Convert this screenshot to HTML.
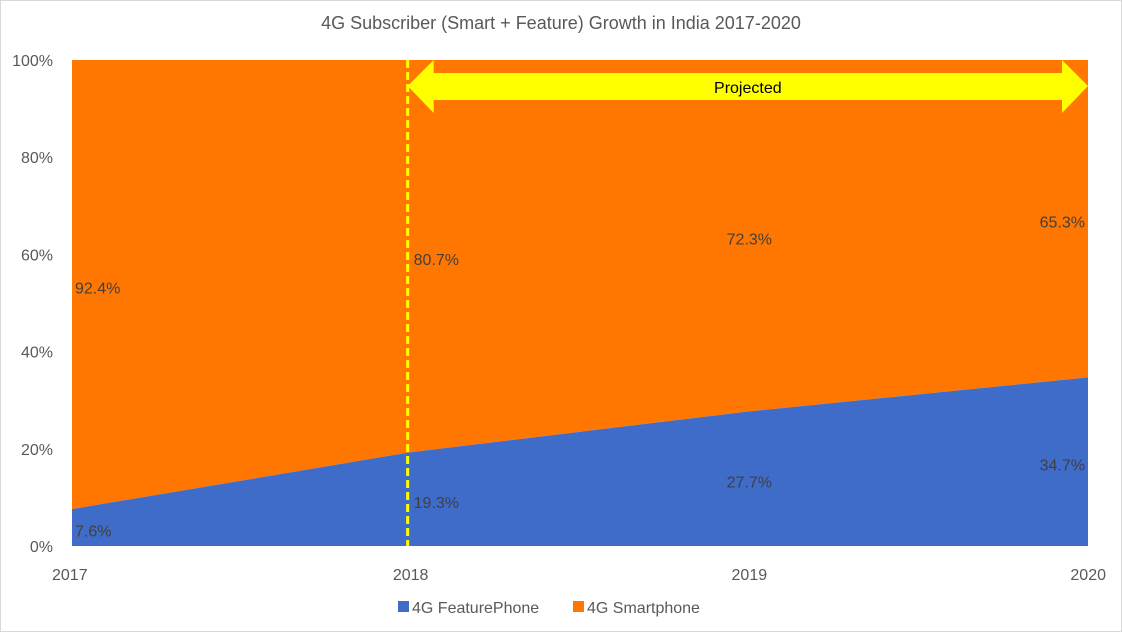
<!DOCTYPE html>
<html><head><meta charset="utf-8"><style>
body{margin:0;background:#fff;}
svg{display:block;font-family:"Liberation Sans",sans-serif;}
</style></head><body>
<svg id="chart" width="1122" height="632">
<rect x="0.5" y="0.5" width="1121" height="631" fill="#fff" stroke="#d9d9d9"/>
<text x="561" y="29" text-anchor="middle" font-size="18" fill="#595959">4G Subscriber (Smart + Feature) Growth in India 2017-2020</text>
<g id="plot"></g>
<g id="axes"></g>
<g>
<rect x="398" y="601" width="11" height="11" fill="#3F6BC9"/>
<text x="412" y="613" font-size="16" fill="#595959">4G FeaturePhone</text>
<rect x="573" y="601" width="11" height="11" fill="#FF7700"/>
<text x="587" y="613" font-size="16" fill="#595959">4G Smartphone</text>
</g>
</svg>
<script>
const years=["2017","2018","2019","2020"];
const feature=[7.6,19.3,27.7,34.7];
const smart=[92.4,80.7,72.3,65.3];
const yTicks=[0,20,40,60,80,100];
const X0=72,X1=1088,Y0=546,Y1=60;
const xs=i=>X0+(X1-X0)*i/(years.length-1);
const ys=v=>Y0-(Y0-Y1)*v/100;
const NS="http://www.w3.org/2000/svg";
const plot=document.getElementById('plot'),axes=document.getElementById('axes');
function mk(tag,attrs,parent,txt){const e=document.createElementNS(NS,tag);for(const k in attrs)e.setAttribute(k,attrs[k]);if(txt!==undefined)e.textContent=txt;parent.appendChild(e);return e;}
const topPts=years.map((y,i)=>xs(i)+","+ys(feature[i]+smart[i]));
const midPts=years.map((y,i)=>xs(i)+","+ys(feature[i]));
const botPts=years.map((y,i)=>xs(i)+","+ys(0));
const sa=mk('polygon',{points:topPts.concat(midPts.slice().reverse()).join(' '),fill:'#FF7700'},plot);


const fa=mk('polygon',{points:midPts.concat(botPts.slice().reverse()).join(' '),fill:'#3F6BC9'},plot);


const dl=mk('line',{x1:xs(1)-3,x2:xs(1)-3,y1:Y1,y2:Y0,stroke:'#FFFF00','stroke-width':3,'stroke-dasharray':'8,4'},plot);


const ax0=xs(1)-3,ax1=X1;
const ar=mk('polygon',{points:`${ax0},86 ${ax0+26},60 ${ax0+26},73 ${ax1-26},73 ${ax1-26},60 ${ax1},86 ${ax1-26},113 ${ax1-26},100 ${ax0+26},100 ${ax0+26},113`,fill:'#FFFF00'},plot);


const pt=mk('text',{x:(ax0+ax1)/2,y:93,'text-anchor':'middle','font-size':16,fill:'#000'},plot,'Projected');


years.forEach((y,i)=>{
 const anchor=i===0||i===1?'start':(i===3?'end':'middle');
 const lx=i===0?X0+3:(i===1?xs(1)+3:(i===3?X1-3:xs(i)));
 const t1=mk('text',{x:lx,y:ys(feature[i]+smart[i]/2)+9,'text-anchor':anchor,'font-size':16,fill:'#404040'},plot,smart[i].toFixed(1)+'%');
 
 
 const t2=mk('text',{x:lx,y:ys(feature[i]/2)+9,'text-anchor':anchor,'font-size':16,fill:'#404040'},plot,feature[i].toFixed(1)+'%');
 
 
 const xt=mk('text',{x:i===0?X0-20:(i===3?X1+18:xs(i)),y:580,'text-anchor':i===0?'start':(i===3?'end':'middle'),'font-size':16,fill:'#595959'},axes,y);
 
 
});
yTicks.forEach(v=>{
 const t=mk('text',{x:53,y:ys(v)+6,'text-anchor':'end','font-size':16,fill:'#595959'},axes,v+'%');
 
 
});
</script>
</body></html>
